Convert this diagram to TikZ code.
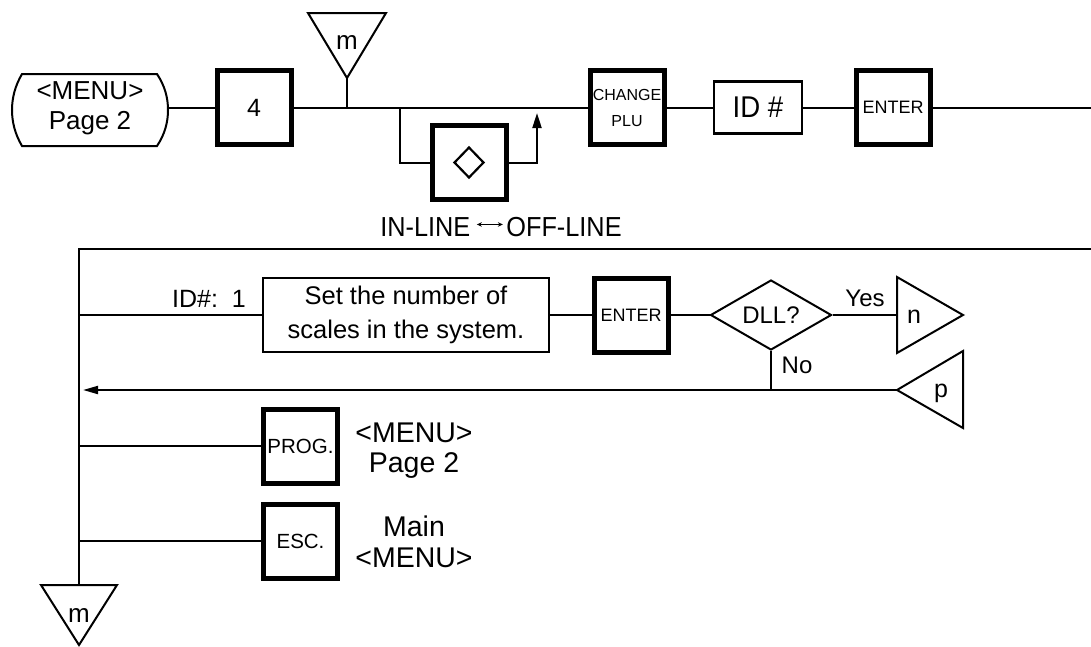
\documentclass[tikz,border=0pt]{standalone}
\usepackage{fontspec}
\setmainfont{Liberation Sans}
\newfontfamily\tallf{Liberation Sans}[FakeStretch=0.92]
\usetikzlibrary{arrows.meta,shapes.geometric}
\newcommand\fsz[2]{\fontsize{#1}{#2}\selectfont}
\begin{document}
\begin{tikzpicture}[x=1pt,y=-1pt,
  ln/.style={line width=2pt},
  keybox/.style={draw, line width=5pt, minimum width=74pt, minimum height=74pt, inner sep=0pt, align=center},
  plainbox/.style={draw, line width=2.3pt, inner sep=0pt, align=center},
  txt/.style={inner sep=0pt, align=center},
  tip/.style={-{Triangle[length=15pt,width=8pt]}}]
\useasboundingbox (0,0) rectangle (1091,646);

% ---------- top row ----------
\node[txt, minimum width=156pt, minimum height=72pt, font=\fsz{26}{30}] (start) at (90,108) {<MENU>\\Page 2};
\draw[ln] (22,74) -- (157,74) .. controls (165,86) and (168,98) .. (168,110)
  .. controls (168,122) and (165,134) .. (157,146) -- (22,146)
  .. controls (15,134) and (12,122) .. (12,110) .. controls (12,98) and (15,86) .. (22,74) -- cycle;

\node[keybox, font=\fsz{25}{30}] (k4) at (254,107.5) {4};
\node[keybox, font=\fsz{16}{26}] (chg) at (627,107.5) {CHANGE\\PLU};
\node[plainbox, minimum width=88pt, minimum height=52pt, font=\tallf\fsz{30}{32}] (id) at (758,107.5) {ID \#};
\node[keybox, font=\fsz{18}{22}] (ent1) at (893,107.5) {ENTER};
\node[keybox] (kd) at (469,162.5) {};
\draw[line width=2.2pt] ([xshift=-14.5pt]kd.center) -- ([yshift=15pt]kd.center) -- ([xshift=14.5pt]kd.center) -- ([yshift=-15pt]kd.center) -- cycle;

% m connector (top)
\draw[ln] (308,13) -- (386,13) -- (347,78) -- cycle;
\node[txt, anchor=base, font=\fsz{26}{30}] (mtop) at (347,49) {m};
\coordinate (mtapex) at (347,78);
\coordinate (j1) at (347,107.5);
\coordinate (j2) at (400,107.5);
\coordinate (jup) at (537,113);
\coordinate (rt1) at (1091,107.5);

\draw[ln] (start.east |- k4) -- (k4.west);
\draw[ln] (k4.east) -- (chg.west);
\draw[ln] (mtapex) -- (j1);
\draw[ln] (j2) |- (kd.west);
\draw[ln, -{Triangle[length=15pt,width=9pt]}] (kd.east) -| (jup);
\draw[ln] (chg.east) -- (id.west);
\draw[ln] (id.east) -- (ent1.west);
\draw[ln] (ent1.east) -- (rt1);

\node[txt, font=\tallf\fsz{27.5}{30}] (inoff) at (501,227) {IN-LINE\hspace{6pt}\tikz[baseline=0pt]\draw[line width=1pt,{Stealth[length=5pt,width=4.5pt]}-{Stealth[length=5pt,width=4.5pt]}] (0pt,12pt) -- (26pt,12pt);\hspace{3pt}OFF-LINE};

% ---------- lower section ----------
\coordinate (rt2) at (1091,249);
\coordinate (tl) at (79,249);
\coordinate (mbtop) at (79,585);
\draw[ln] (rt2) -- (tl) -- (mbtop);
\draw[ln] (41,585) -- (117,585) -- (79,645) -- cycle;
\node[txt, anchor=base, font=\fsz{26}{30}] (mbot) at (79,622) {m};

% row 1
\node[plainbox, minimum width=286pt, minimum height=74pt, font=\fsz{25.5}{34}] (setb) at (406,315) {Set the number of\\scales in the system.};
\node[keybox, font=\fsz{18}{22}] (ent2) at (631,315) {ENTER};
\node[draw, diamond, line width=2pt, minimum width=121pt, minimum height=70pt, aspect=1.73, inner sep=0pt, font=\fsz{24}{28}] (dll) at (771,315) {DLL?};
\coordinate (r1) at (79,315);
\draw[ln] (r1) -- (setb.west);
\node[txt, anchor=base east, font=\fsz{25}{30}] (idl) at (246,307) {ID\#:\ \ 1};
\draw[ln] (setb.east) -- (ent2.west);
\draw[ln] (ent2.east) -- (dll.west);
% n connector
\draw[ln] (897,277) -- (963,315) -- (897,353) -- cycle;
\node[txt, anchor=base, font=\fsz{25}{30}] (nc) at (914,323) {n};
\coordinate (nleft) at (897,315);
\draw[ln] (dll.east) -- (nleft);
\node[txt, anchor=base, font=\fsz{24}{28}] (yes) at (865,306) {Yes};
% No branch and p connector
\coordinate (nojoin) at (771,390);
\draw[ln] (dll.south) -- (nojoin);
\node[txt, anchor=base, font=\fsz{24}{28}] (no) at (797,373) {No};
\draw[ln] (963,351) -- (897,390) -- (963,428) -- cycle;
\node[txt, anchor=base, font=\fsz{25}{30}] (pc) at (941,397) {p};
\coordinate (papex) at (897,390);
\coordinate (arrend) at (83,390);
\draw[ln, tip] (papex) -- (arrend);

% PROG row
\node[keybox, font=\fsz{20.5}{24}] (prog) at (300.5,446) {PROG.};
\coordinate (r2) at (79,446);
\draw[ln] (r2) -- (prog.west);
\node[txt, font=\fsz{28.5}{30}] (pmenu) at (414,451) {<MENU>\\Page 2};

% ESC row
\node[keybox, font=\fsz{20.5}{24}] (esc) at (300.5,541) {ESC.};
\coordinate (r3) at (79,541);
\draw[ln] (r3) -- (esc.west);
\node[txt, font=\fsz{28.5}{31}] (mmenu) at (414,542) {Main\\<MENU>};
\end{tikzpicture}
\end{document}
